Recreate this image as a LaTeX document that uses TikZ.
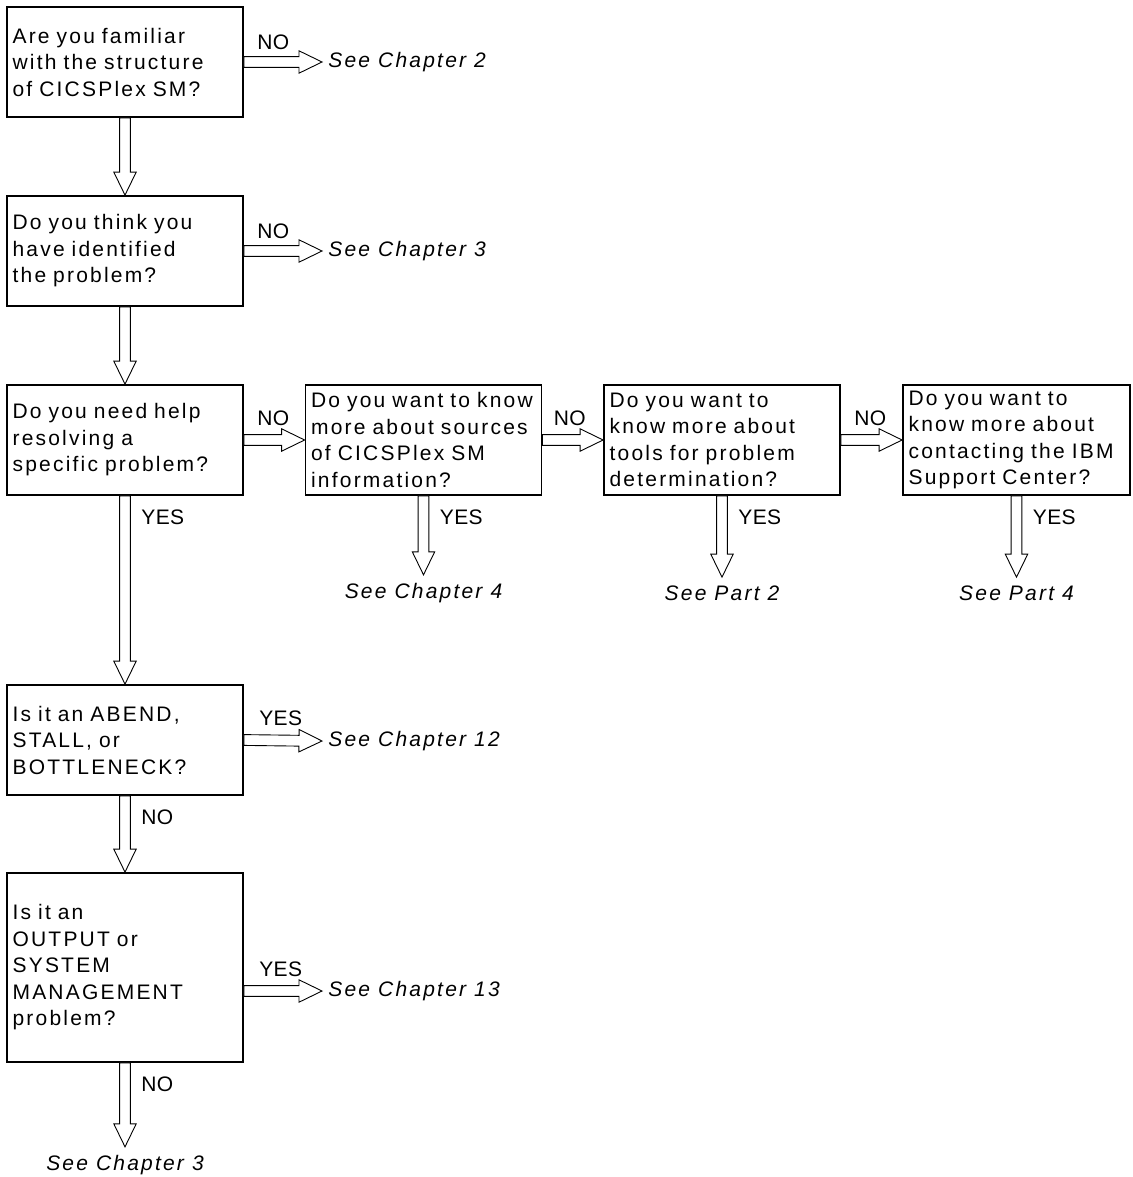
\documentclass[tikz,border=0pt]{standalone}
\usepackage{fontspec}
\setmainfont{Liberation Sans}[LetterSpace=10.5]
\usetikzlibrary{positioning,calc}
\tikzset{qbox/.style={draw,line width=0.9pt,text width=118pt,inner xsep=0pt,inner ysep=0pt,minimum height=55pt,align=left,execute at begin node={\leftskip=2.8pt}},
  see/.style={font=\fontsize{10.5}{13.25}\selectfont\itshape,inner xsep=3pt,inner ysep=4pt},
  lbl/.style={font=\fontsize{10.5}{13.25}\selectfont\addfontfeature{LetterSpace=2},inner sep=1pt},
  fat/.style={draw,line width=0.45pt,fill=white,line join=miter}}
% hollow block arrow from #1 to #2, label #4 placed with #3 near the start
\newcommand{\fatarrow}[4]{%
  \coordinate (hb) at ($(#2)!11.5pt!(#1)$);
  \draw[fat] ($(#1)!2.7pt!90:(#2)$) -- ($(hb)!2.7pt!90:(#2)$) -- ($(hb)!5.6pt!90:(#2)$) -- (#2)
    -- ($(hb)!5.6pt!-90:(#2)$) -- ($(hb)!2.7pt!-90:(#2)$) -- ($(#1)!2.7pt!-90:(#2)$) -- cycle;
  \node[lbl,#3] at (#1) {#4};}

\begin{document}
\begin{tikzpicture}[x=0.5pt,y=-0.5pt,every node/.style={font=\fontsize{10.5}{13.25}\selectfont}]
        \useasboundingbox (0,0) rectangle (1132,1177);

        \node[qbox] (q1) at (125,62) {Are you familiar\\with the structure\\of CICSPlex SM?};
        \node[qbox] (q2) at (125,251) {Do you think you\\have identified\\the problem?};
        \node[qbox] (q3) at (125,440) {Do you need help\\resolving a\\specific problem?};
        \node[qbox] (q4) at (423.5,440) {Do you want to know\\more about sources\\of CICSPlex SM\\information?};
        \node[qbox] (q5) at (722,440) {Do you want to\\know more about\\tools for problem\\determination?};
        \node[qbox,text width=113.5pt] (q6) at (1016.5,440) {Do you want to\\know more about\\contacting the IBM\\Support Center?};
        \node[qbox] (q7) at (125,740) {Is it an ABEND,\\STALL, or\\BOTTLENECK?};
        \node[qbox,minimum height=94.5pt] (q8) at (125,967.5) {Is it an\\OUTPUT or\\SYSTEM\\MANAGEMENT\\problem?};

        \node[see,anchor=west] (c2) at (322,62) {See Chapter 2};
        \node[see,anchor=west] (c3) at (322,251) {See Chapter 3};
        \node[see] (c4) at (423.5,593) {See Chapter 4};
        \node[see] (p2) at (722,593) {See Part 2};
        \node[see] (p4) at (1016.5,593) {See Part 4};
        \node[see,anchor=west] (c12) at (322,741) {See Chapter 12};
        \node[see,anchor=west] (c13) at (322,991) {See Chapter 13};
        \node[see] (c3b) at (125,1165) {See Chapter 3};
        \coordinate (q8e) at (q8.east |- c13.west);

        \fatarrow{q1.east}{c2.west}{above right={5pt and 5.5pt}}{NO}
        \fatarrow{q1.south}{q2.north}{}{}
        \fatarrow{q2.east}{c3.west}{above right={5pt and 5.5pt}}{NO}
        \fatarrow{q2.south}{q3.north}{}{}
        \fatarrow{q3.east}{q4.west}{above right={6pt and 5.5pt}}{NO}
        \fatarrow{q4.east}{q5.west}{above right={6pt and 4.5pt}}{NO}
        \fatarrow{q5.east}{q6.west}{above right={6pt and 5.5pt}}{NO}
        \fatarrow{q4.south}{c4.north}{below right={6pt and 7pt}}{YES}
        \fatarrow{q5.south}{p2.north}{below right={6pt and 7pt}}{YES}
        \fatarrow{q6.south}{p4.north}{below right={6pt and 7pt}}{YES}
        \fatarrow{q3.south}{q7.north}{below right={6pt and 7pt}}{YES}
        \fatarrow{q7.east}{c12.west}{above right={6pt and 6.5pt}}{YES}
        \fatarrow{q7.south}{q8.north}{below right={6pt and 7pt}}{NO}
        \fatarrow{q8e}{c13.west}{above right={6pt and 6.5pt}}{YES}
        \fatarrow{q8.south}{c3b.north}{below right={6pt and 7pt}}{NO}
    \end{tikzpicture}
\end{document}
